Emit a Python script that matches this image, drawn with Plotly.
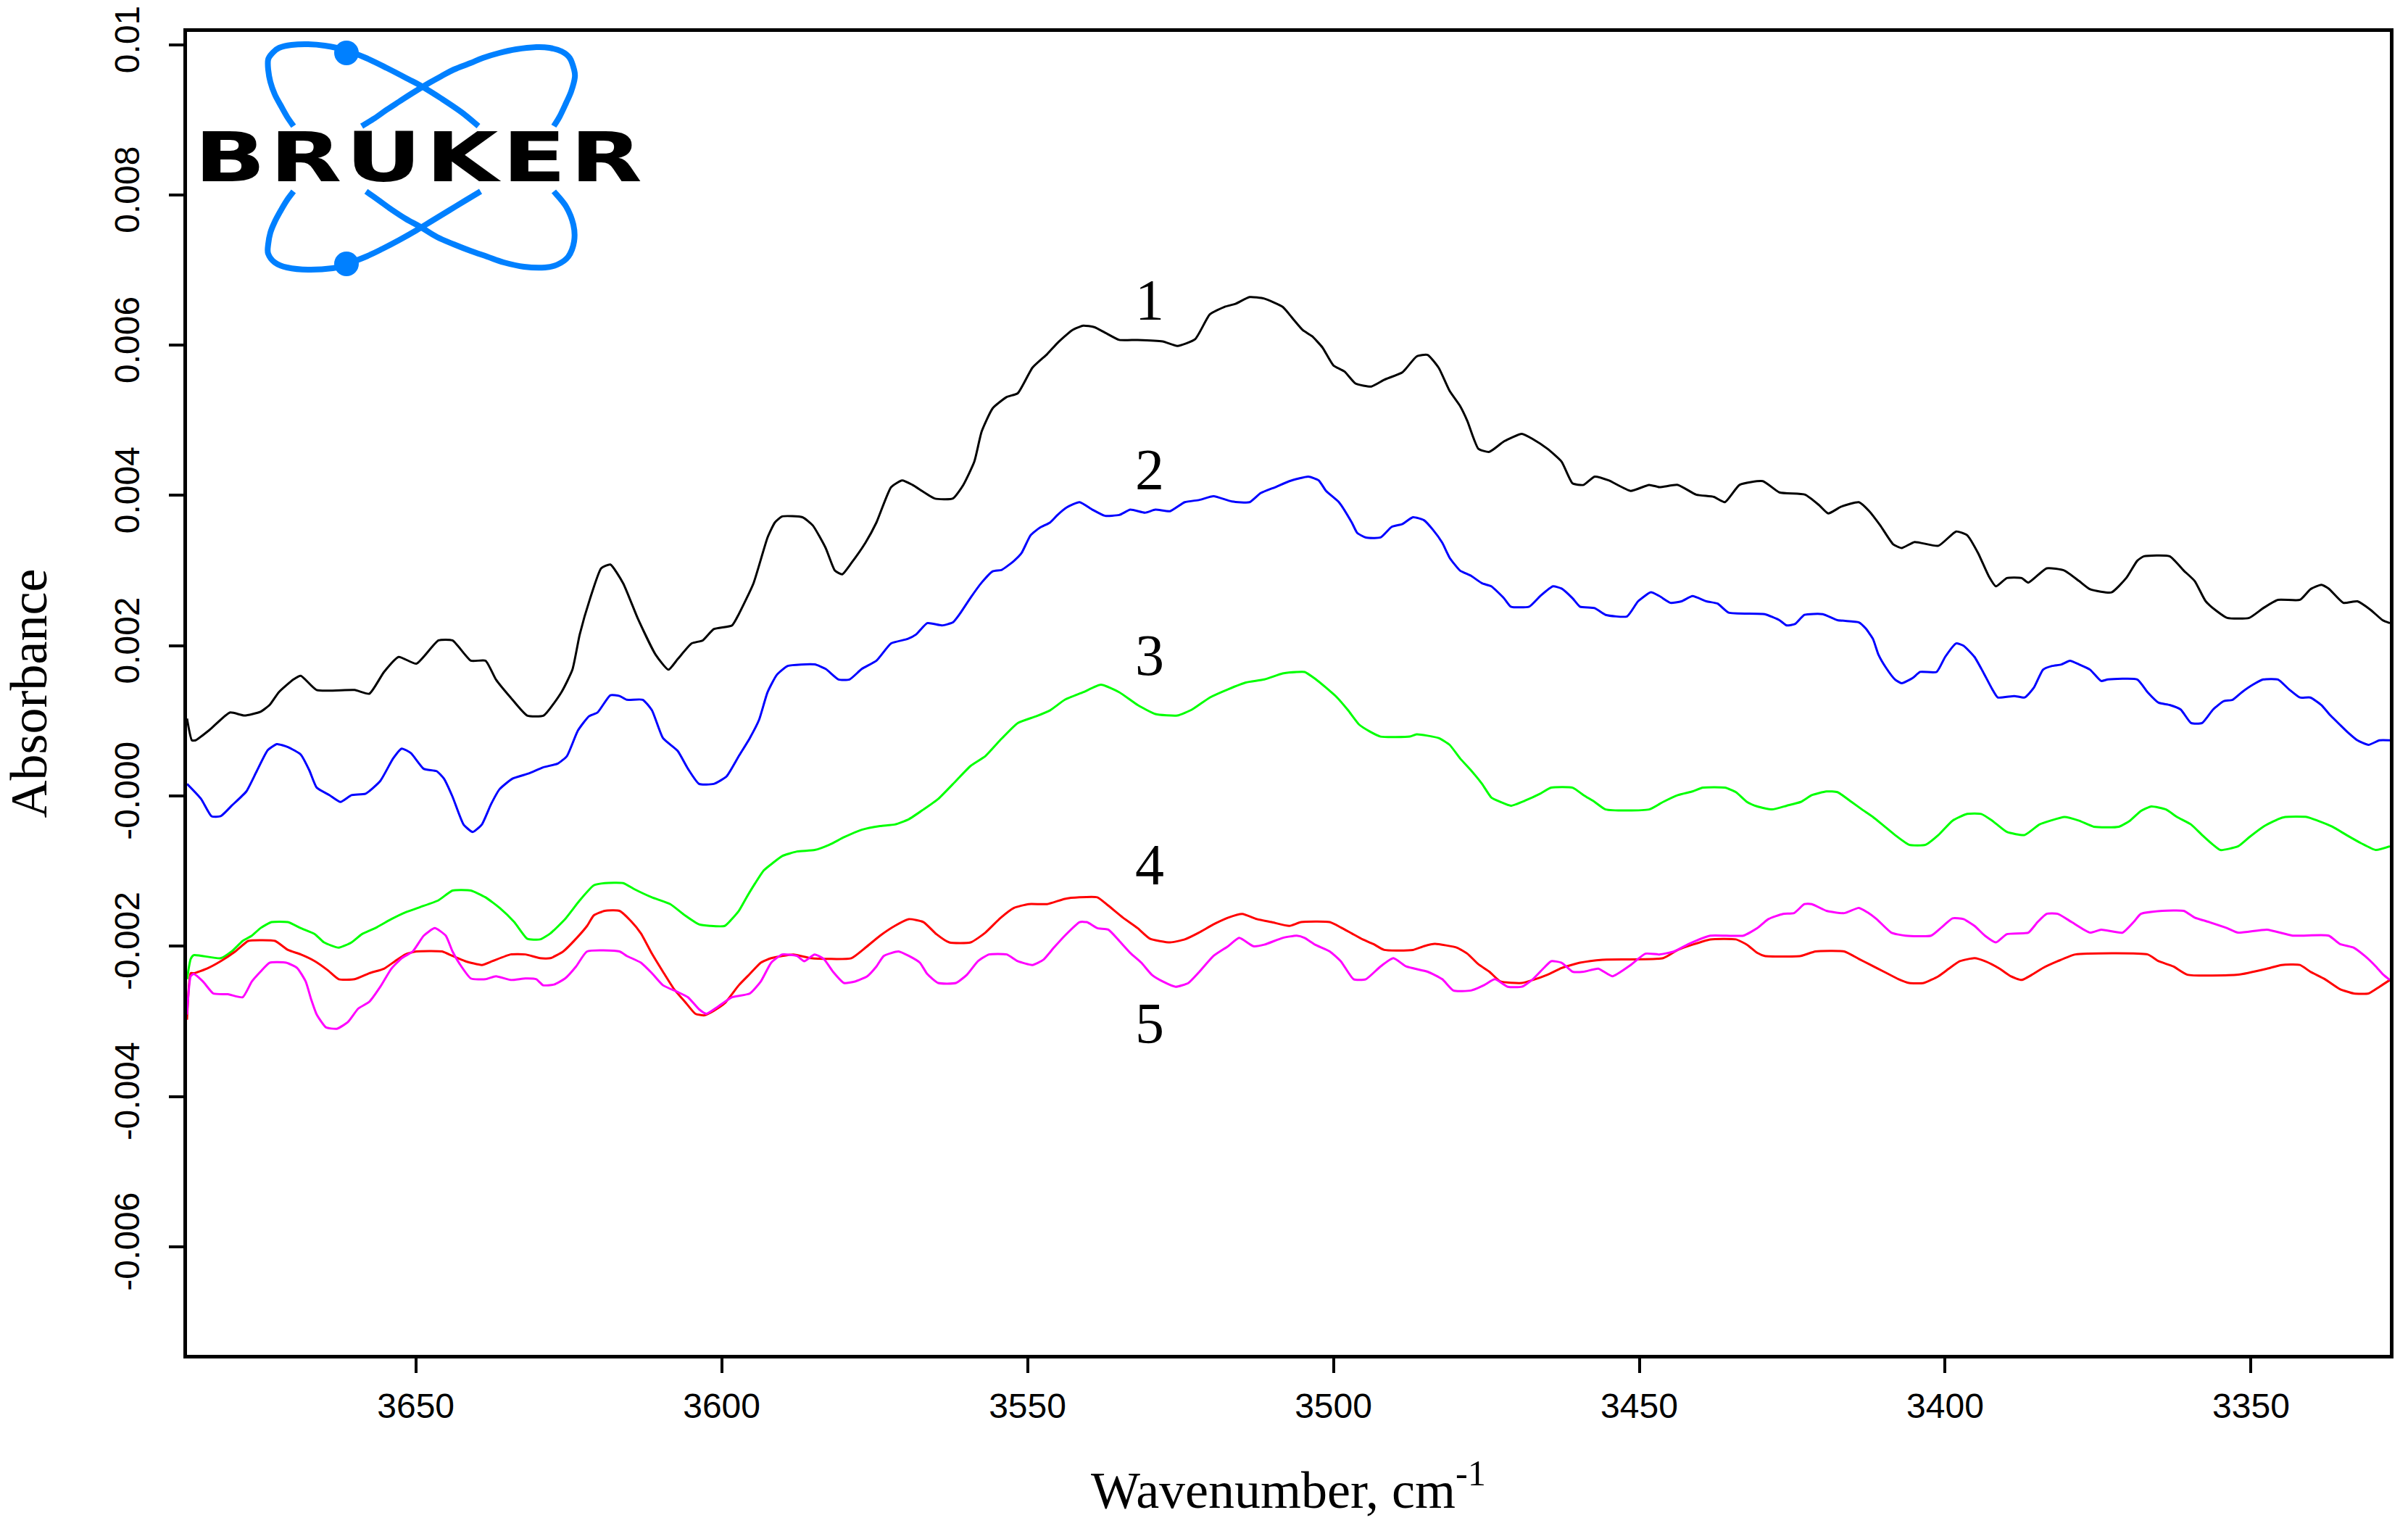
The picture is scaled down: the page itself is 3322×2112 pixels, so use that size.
import plotly.graph_objects as go

# ---------------- data ----------------
WN_1 = [3687.4, 3686.6, 3686.0, 3683.7, 3680.4, 3678.0, 3675.4, 3673.9, 3672.4, 3670.0, 3668.8, 3666.2, 3660.0,
        3657.6, 3655.2, 3652.8, 3649.9, 3646.3, 3644.0, 3641.0, 3638.6, 3636.9, 3634.5, 3631.8, 3629.1, 3626.2,
        3624.4, 3623.2, 3621.5, 3619.7, 3618.2, 3616.1, 3613.7, 3610.8, 3608.7, 3607.2, 3604.9, 3603.1, 3601.3,
        3598.3, 3597.2, 3594.8, 3592.5, 3591.3, 3590.1, 3586.8, 3585.1, 3583.0, 3581.5, 3580.3, 3578.8, 3576.5,
        3574.7, 3572.3, 3570.5, 3568.8, 3565.2, 3562.2, 3560.5, 3558.7, 3557.5, 3555.7, 3553.4, 3551.6, 3549.2,
        3546.8, 3545.1, 3542.7, 3540.9, 3539.1, 3537.4, 3535.0, 3532.0, 3527.9, 3525.5, 3522.6, 3520.2, 3517.8,
        3516.0, 3513.7, 3511.3, 3508.3, 3506.5, 3505.0, 3503.5, 3501.8, 3500.0, 3498.2, 3496.4, 3493.8, 3491.7,
        3488.7, 3486.4, 3484.6, 3482.8, 3481.0, 3479.3, 3478.1, 3476.3, 3474.5, 3472.1, 3469.2, 3467.4, 3465.0,
        3462.7, 3460.9, 3459.1, 3457.3, 3455.0, 3451.4, 3448.4, 3446.7, 3443.7, 3440.7, 3437.8, 3436.0, 3433.6,
        3429.8, 3427.1, 3422.9, 3420.6, 3419.1, 3417.0, 3414.1, 3412.4, 3410.6, 3408.5, 3407.1, 3405.0, 3401.1,
        3398.2, 3396.4, 3394.6, 3392.9, 3391.7, 3389.9, 3387.5, 3386.4, 3383.4, 3380.5, 3378.1, 3376.3, 3372.8,
        3370.4, 3368.6, 3367.5, 3363.3, 3361.0, 3359.2, 3357.4, 3355.6, 3353.9, 3350.3, 3348.0, 3345.6, 3342.0,
        3340.3, 3338.5, 3337.3, 3334.9, 3332.6, 3330.5, 3328.5, 3327.3]
AB_1 = [0.00103, 0.00074, 0.00074, 0.00088, 0.00111, 0.00107, 0.00112, 0.00121, 0.00138, 0.00155, 0.00160, 0.00141,
        0.00141, 0.00136, 0.00165, 0.00185, 0.00176, 0.00207, 0.00207, 0.00180, 0.00180, 0.00155, 0.00131, 0.00107,
        0.00107, 0.00138, 0.00168, 0.00215, 0.00263, 0.00303, 0.00308, 0.00283, 0.00236, 0.00188, 0.00168, 0.00182,
        0.00203, 0.00207, 0.00222, 0.00227, 0.00242, 0.00283, 0.00344, 0.00364, 0.00372, 0.00371, 0.00360, 0.00330,
        0.00300, 0.00295, 0.00310, 0.00337, 0.00364, 0.00411, 0.00420, 0.00414, 0.00396, 0.00396, 0.00414, 0.00445,
        0.00485, 0.00516, 0.00531, 0.00536, 0.00570, 0.00588, 0.00603, 0.00620, 0.00626, 0.00624, 0.00617, 0.00607,
        0.00607, 0.00605, 0.00599, 0.00608, 0.00641, 0.00651, 0.00655, 0.00664, 0.00662, 0.00651, 0.00634, 0.00620,
        0.00612, 0.00597, 0.00573, 0.00565, 0.00549, 0.00545, 0.00554, 0.00564, 0.00585, 0.00587, 0.00570, 0.00539,
        0.00519, 0.00499, 0.00462, 0.00458, 0.00472, 0.00482, 0.00475, 0.00462, 0.00445, 0.00416, 0.00414, 0.00425,
        0.00420, 0.00406, 0.00414, 0.00411, 0.00414, 0.00401, 0.00398, 0.00391, 0.00414, 0.00419, 0.00404, 0.00401,
        0.00387, 0.00376, 0.00385, 0.00391, 0.00379, 0.00360, 0.00335, 0.00330, 0.00338, 0.00333, 0.00352, 0.00347,
        0.00323, 0.00293, 0.00279, 0.00290, 0.00290, 0.00284, 0.00303, 0.00300, 0.00286, 0.00275, 0.00271, 0.00290,
        0.00313, 0.00319, 0.00319, 0.00300, 0.00286, 0.00259, 0.00246, 0.00237, 0.00237, 0.00250, 0.00261, 0.00261,
        0.00275, 0.00281, 0.00276, 0.00257, 0.00259, 0.00248, 0.00234, 0.00230]

WN_2 = [3687.4, 3685.1, 3683.4, 3681.9, 3680.1, 3677.7, 3676.0, 3674.2, 3672.7, 3670.9, 3668.8, 3667.4, 3666.2,
        3664.1, 3662.3, 3660.5, 3658.2, 3655.8, 3653.7, 3652.3, 3650.8, 3648.7, 3646.6, 3645.4, 3644.0, 3642.2,
        3640.7, 3639.2, 3637.7, 3636.3, 3634.2, 3631.5, 3629.2, 3626.8, 3625.3, 3623.5, 3621.7, 3620.3, 3618.2,
        3616.7, 3615.5, 3612.9, 3611.4, 3609.6, 3607.2, 3605.5, 3603.7, 3601.3, 3599.2, 3597.2, 3595.4, 3593.9,
        3592.5, 3591.0, 3589.2, 3584.8, 3583.0, 3580.9, 3579.1, 3577.1, 3574.7, 3572.3, 3569.6, 3568.2, 3566.4,
        3564.0, 3562.2, 3561.1, 3559.3, 3557.5, 3555.7, 3554.2, 3552.2, 3551.0, 3549.5, 3548.0, 3546.3, 3545.1,
        3543.6, 3541.5, 3539.4, 3537.4, 3535.0, 3533.2, 3530.8, 3529.1, 3526.7, 3524.3, 3521.9, 3519.6, 3516.6,
        3513.7, 3511.9, 3509.5, 3507.2, 3504.1, 3502.4, 3501.2, 3499.1, 3497.0, 3496.1, 3494.7, 3492.3, 3490.5,
        3488.7, 3487.0, 3485.2, 3483.7, 3482.2, 3481.0, 3479.3, 3477.5, 3475.7, 3474.2, 3472.1, 3471.0, 3468.0,
        3466.2, 3464.1, 3462.7, 3460.9, 3459.7, 3457.3, 3455.5, 3452.0, 3450.2, 3448.1, 3446.7, 3444.9, 3443.1,
        3441.3, 3439.0, 3437.2, 3435.4, 3429.5, 3427.1, 3425.9, 3424.5, 3423.0, 3420.0, 3417.6, 3414.1, 3413.0,
        3411.8, 3410.9, 3409.7, 3408.2, 3407.1, 3405.3, 3404.1, 3401.4, 3400.0, 3398.2, 3397.0, 3395.2, 3393.8,
        3392.3, 3391.4, 3388.7, 3387.0, 3385.5, 3384.0, 3382.5, 3381.0, 3379.6, 3378.1, 3376.3, 3374.5, 3373.4,
        3368.6, 3366.9, 3365.1, 3363.3, 3361.5, 3359.8, 3358.0, 3356.2, 3354.5, 3353.0, 3351.5, 3349.7, 3348.0,
        3345.6, 3343.8, 3342.0, 3340.3, 3338.5, 3337.0, 3335.5, 3334.1, 3332.6, 3330.8, 3329.0, 3327.3]
AB_2 = [0.00016, -0.00004, -0.00027, -0.00027, -0.00013, 0.00006, 0.00033, 0.00061, 0.00069, 0.00065, 0.00055,
        0.00034, 0.00011, 0.00001, -0.00008, 0.00001, 0.00003, 0.00020, 0.00050, 0.00063, 0.00057, 0.00036, 0.00033,
        0.00023, -0.00001, -0.00038, -0.00048, -0.00038, -0.00011, 0.00009, 0.00023, 0.00030, 0.00038, 0.00043,
        0.00053, 0.00087, 0.00106, 0.00111, 0.00134, 0.00133, 0.00128, 0.00128, 0.00114, 0.00077, 0.00060, 0.00036,
        0.00016, 0.00016, 0.00026, 0.00053, 0.00077, 0.00101, 0.00138, 0.00161, 0.00173, 0.00175, 0.00169, 0.00155,
        0.00155, 0.00169, 0.00180, 0.00203, 0.00209, 0.00215, 0.00230, 0.00227, 0.00231, 0.00242, 0.00264, 0.00284,
        0.00299, 0.00301, 0.00313, 0.00323, 0.00347, 0.00357, 0.00364, 0.00374, 0.00384, 0.00391, 0.00381, 0.00373,
        0.00374, 0.00381, 0.00377, 0.00381, 0.00379, 0.00391, 0.00394, 0.00399, 0.00392, 0.00391, 0.00403, 0.00411,
        0.00419, 0.00425, 0.00420, 0.00406, 0.00391, 0.00364, 0.00350, 0.00344, 0.00344, 0.00358, 0.00362, 0.00371,
        0.00367, 0.00354, 0.00337, 0.00317, 0.00300, 0.00293, 0.00283, 0.00279, 0.00263, 0.00252, 0.00252, 0.00266,
        0.00279, 0.00276, 0.00263, 0.00252, 0.00250, 0.00241, 0.00239, 0.00259, 0.00271, 0.00266, 0.00257, 0.00259,
        0.00266, 0.00259, 0.00256, 0.00244, 0.00242, 0.00234, 0.00227, 0.00229, 0.00241, 0.00242, 0.00234, 0.00231,
        0.00223, 0.00209, 0.00188, 0.00171, 0.00155, 0.00150, 0.00157, 0.00165, 0.00165, 0.00185, 0.00203, 0.00200,
        0.00185, 0.00165, 0.00142, 0.00131, 0.00133, 0.00131, 0.00144, 0.00168, 0.00173, 0.00175, 0.00180, 0.00175,
        0.00168, 0.00153, 0.00155, 0.00155, 0.00138, 0.00124, 0.00121, 0.00115, 0.00097, 0.00097, 0.00115, 0.00126,
        0.00128, 0.00138, 0.00148, 0.00155, 0.00155, 0.00142, 0.00131, 0.00131, 0.00121, 0.00107, 0.00095, 0.00084,
        0.00074, 0.00068, 0.00074, 0.00074]

WN_3 = [3687.4, 3686.8, 3686.3, 3681.9, 3680.1, 3678.3, 3676.8, 3675.4, 3673.6, 3670.9, 3668.8, 3666.5, 3665.0,
        3662.6, 3660.5, 3658.8, 3656.4, 3654.0, 3651.7, 3649.3, 3646.3, 3644.0, 3641.0, 3638.6, 3636.3, 3633.9,
        3631.8, 3629.7, 3628.0, 3625.6, 3623.2, 3620.9, 3619.1, 3616.1, 3614.3, 3611.4, 3608.4, 3606.0, 3603.7,
        3601.9, 3599.5, 3597.2, 3596.0, 3594.5, 3593.1, 3591.6, 3590.1, 3587.7, 3584.8, 3582.4, 3580.0, 3577.1,
        3574.1, 3571.7, 3569.4, 3567.0, 3564.6, 3561.7, 3559.3, 3556.9, 3554.5, 3551.6, 3548.6, 3546.3, 3543.9,
        3540.9, 3538.0, 3535.0, 3532.0, 3529.1, 3525.5, 3523.1, 3520.2, 3517.2, 3514.3, 3511.3, 3508.3, 3506.0,
        3504.7, 3503.0, 3501.2, 3499.4, 3497.6, 3495.8, 3494.1, 3492.3, 3487.5, 3486.4, 3482.8, 3481.0, 3479.3,
        3477.5, 3475.7, 3474.2, 3472.7, 3471.0, 3468.6, 3466.2, 3464.4, 3460.9, 3459.1, 3457.3, 3455.5, 3448.4,
        3446.1, 3443.7, 3441.3, 3439.6, 3436.0, 3434.2, 3432.4, 3430.7, 3428.3, 3425.9, 3423.6, 3421.8, 3419.4,
        3417.6, 3415.3, 3413.6, 3411.8, 3410.0, 3408.2, 3405.9, 3403.2, 3401.1, 3398.8, 3396.4, 3394.1, 3392.3,
        3389.9, 3387.0, 3384.6, 3382.8, 3380.5, 3378.1, 3375.7, 3371.6, 3369.8, 3368.0, 3366.3, 3363.9, 3362.1,
        3359.8, 3358.0, 3356.2, 3355.0, 3352.1, 3350.3, 3348.0, 3345.6, 3344.4, 3340.9, 3339.1, 3336.7, 3334.4,
        3332.0, 3329.6, 3327.3]
AB_3 = [-0.00244, -0.00217, -0.00212, -0.00216, -0.00207, -0.00193, -0.00186, -0.00176, -0.00168, -0.00168,
        -0.00176, -0.00184, -0.00195, -0.00202, -0.00195, -0.00184, -0.00175, -0.00164, -0.00155, -0.00148,
        -0.00139, -0.00126, -0.00126, -0.00135, -0.00149, -0.00168, -0.00190, -0.00191, -0.00183, -0.00164,
        -0.00139, -0.00119, -0.00116, -0.00116, -0.00124, -0.00135, -0.00144, -0.00159, -0.00171, -0.00173,
        -0.00173, -0.00153, -0.00136, -0.00116, -0.00099, -0.00089, -0.00080, -0.00074, -0.00072, -0.00065,
        -0.00055, -0.00045, -0.00040, -0.00038, -0.00031, -0.00018, -0.00004, 0.00020, 0.00040, 0.00053, 0.00074,
        0.00097, 0.00106, 0.00114, 0.00128, 0.00138, 0.00148, 0.00138, 0.00121, 0.00109, 0.00107, 0.00115, 0.00131,
        0.00142, 0.00151, 0.00155, 0.00163, 0.00165, 0.00165, 0.00156, 0.00144, 0.00131, 0.00114, 0.00095, 0.00086,
        0.00079, 0.00079, 0.00082, 0.00077, 0.00068, 0.00050, 0.00034, 0.00016, -0.00002, -0.00008, -0.00013,
        -0.00006, 0.00003, 0.00011, 0.00011, 0.00001, -0.00008, -0.00018, -0.00018, -0.00008, 0.00001, 0.00006,
        0.00011, 0.00011, 0.00005, -0.00008, -0.00014, -0.00018, -0.00013, -0.00008, 0.00001, 0.00006, 0.00005,
        -0.00008, -0.00018, -0.00028, -0.00040, -0.00052, -0.00065, -0.00065, -0.00052, -0.00033, -0.00024,
        -0.00024, -0.00033, -0.00048, -0.00052, -0.00038, -0.00033, -0.00028, -0.00033, -0.00041, -0.00041,
        -0.00033, -0.00020, -0.00014, -0.00018, -0.00028, -0.00038, -0.00052, -0.00065, -0.00072, -0.00067,
        -0.00055, -0.00041, -0.00031, -0.00028, -0.00028, -0.00033, -0.00041, -0.00052, -0.00063, -0.00072,
        -0.00067]

WN_4 = [3687.4, 3686.8, 3686.3, 3684.2, 3681.9, 3679.5, 3677.4, 3675.4, 3673.0, 3670.9, 3668.8, 3666.5, 3664.4,
        3662.6, 3660.0, 3657.6, 3655.2, 3653.4, 3651.7, 3649.9, 3645.7, 3644.0, 3641.9, 3639.2, 3637.5, 3634.5,
        3632.1, 3629.7, 3628.0, 3625.9, 3623.8, 3622.0, 3620.9, 3619.1, 3616.7, 3614.9, 3613.2, 3611.4, 3609.6,
        3607.8, 3606.0, 3604.3, 3602.8, 3601.3, 3599.5, 3597.2, 3595.4, 3593.6, 3591.9, 3588.3, 3585.4, 3582.4,
        3578.8, 3576.5, 3574.1, 3571.7, 3569.4, 3567.0, 3564.9, 3562.8, 3559.3, 3556.9, 3554.5, 3552.2, 3549.8,
        3546.8, 3543.9, 3541.5, 3538.6, 3536.8, 3534.4, 3532.0, 3530.0, 3526.7, 3524.3, 3522.0, 3519.6, 3517.2,
        3514.9, 3512.5, 3510.1, 3507.2, 3505.3, 3500.6, 3498.8, 3497.0, 3495.2, 3493.5, 3491.7, 3487.0, 3485.2,
        3483.4, 3479.8, 3478.1, 3476.3, 3474.5, 3472.7, 3469.2, 3467.4, 3465.0, 3462.7, 3459.7, 3456.0, 3446.1,
        3443.7, 3441.3, 3438.4, 3434.2, 3432.4, 3430.7, 3429.5, 3423.6, 3421.2, 3416.5, 3414.1, 3412.4, 3410.0,
        3407.6, 3405.9, 3403.5, 3401.1, 3399.4, 3397.6, 3395.2, 3393.5, 3391.1, 3389.3, 3387.5, 3385.8, 3384.0,
        3381.6, 3378.7, 3366.9, 3365.1, 3362.7, 3360.4, 3352.1, 3347.4, 3345.0, 3342.0, 3340.3, 3337.9, 3335.5,
        3333.2, 3330.8, 3329.0, 3327.3]
AB_4 = [-0.00298, -0.00236, -0.00236, -0.00230, -0.00220, -0.00207, -0.00193, -0.00192, -0.00193, -0.00205,
        -0.00211, -0.00220, -0.00232, -0.00244, -0.00244, -0.00236, -0.00230, -0.00220, -0.00211, -0.00207,
        -0.00207, -0.00213, -0.00220, -0.00225, -0.00220, -0.00211, -0.00211, -0.00216, -0.00216, -0.00207,
        -0.00190, -0.00173, -0.00159, -0.00153, -0.00153, -0.00166, -0.00183, -0.00210, -0.00234, -0.00257,
        -0.00274, -0.00290, -0.00292, -0.00286, -0.00276, -0.00252, -0.00237, -0.00222, -0.00216, -0.00211,
        -0.00216, -0.00217, -0.00216, -0.00202, -0.00186, -0.00173, -0.00164, -0.00168, -0.00184, -0.00195,
        -0.00195, -0.00182, -0.00163, -0.00149, -0.00144, -0.00144, -0.00137, -0.00135, -0.00135, -0.00146,
        -0.00162, -0.00176, -0.00190, -0.00195, -0.00191, -0.00182, -0.00171, -0.00162, -0.00157, -0.00164,
        -0.00168, -0.00173, -0.00168, -0.00168, -0.00175, -0.00183, -0.00191, -0.00197, -0.00205, -0.00205,
        -0.00200, -0.00197, -0.00202, -0.00210, -0.00224, -0.00234, -0.00247, -0.00249, -0.00245, -0.00238,
        -0.00229, -0.00222, -0.00218, -0.00216, -0.00205, -0.00198, -0.00191, -0.00191, -0.00198, -0.00209,
        -0.00213, -0.00213, -0.00207, -0.00207, -0.00217, -0.00224, -0.00234, -0.00244, -0.00249, -0.00249,
        -0.00240, -0.00230, -0.00220, -0.00216, -0.00220, -0.00230, -0.00240, -0.00245, -0.00238, -0.00229,
        -0.00220, -0.00211, -0.00211, -0.00220, -0.00227, -0.00238, -0.00238, -0.00230, -0.00225, -0.00225,
        -0.00234, -0.00244, -0.00257, -0.00263, -0.00263, -0.00254, -0.00245]

WN_5 = [3687.4, 3686.8, 3686.3, 3684.8, 3683.1, 3680.7, 3678.3, 3676.8, 3675.4, 3673.9, 3671.2, 3669.4, 3668.0,
        3667.1, 3666.2, 3664.7, 3662.9, 3661.1, 3659.4, 3657.6, 3655.8, 3654.0, 3652.3, 3650.5, 3648.7, 3646.9,
        3645.1, 3644.0, 3642.8, 3641.0, 3638.6, 3636.9, 3634.5, 3632.1, 3630.3, 3629.2, 3627.4, 3625.6, 3623.8,
        3622.0, 3616.7, 3615.5, 3613.2, 3611.4, 3609.6, 3607.2, 3605.5, 3603.7, 3602.5, 3600.7, 3598.3, 3595.4,
        3593.6, 3591.9, 3590.1, 3587.7, 3586.5, 3584.8, 3583.3, 3581.8, 3580.0, 3578.2, 3576.2, 3574.7, 3573.5,
        3571.1, 3569.4, 3567.6, 3566.4, 3564.6, 3561.7, 3559.9, 3558.1, 3556.3, 3553.4, 3551.6, 3549.2, 3547.4,
        3545.7, 3543.9, 3541.5, 3540.3, 3538.6, 3536.8, 3535.0, 3533.2, 3531.4, 3529.7, 3527.9, 3525.8, 3523.7,
        3521.9, 3519.6, 3517.2, 3515.4, 3513.1, 3511.3, 3508.3, 3506.0, 3504.7, 3503.0, 3500.6, 3498.8, 3496.7,
        3494.7, 3492.3, 3490.2, 3488.1, 3484.6, 3482.2, 3480.4, 3477.5, 3475.4, 3473.6, 3471.5, 3469.2, 3467.4,
        3465.6, 3464.4, 3462.7, 3460.9, 3459.1, 3456.7, 3454.4, 3451.4, 3449.0, 3446.7, 3444.3, 3441.9, 3438.4,
        3433.0, 3430.7, 3428.9, 3426.5, 3424.7, 3423.0, 3421.8, 3419.4, 3416.5, 3414.1, 3412.7, 3411.2, 3408.8,
        3406.5, 3402.3, 3400.6, 3398.8, 3397.0, 3395.2, 3393.5, 3391.7, 3389.9, 3386.4, 3384.9, 3383.4, 3381.6,
        3379.3, 3376.3, 3374.5, 3371.0, 3369.2, 3368.0, 3364.5, 3361.0, 3359.2, 3356.8, 3353.9, 3352.1, 3347.4,
        3343.2, 3337.3, 3335.5, 3333.2, 3331.4, 3329.6, 3328.5, 3327.3]
AB_5 = [-0.00291, -0.00240, -0.00237, -0.00247, -0.00263, -0.00264, -0.00268, -0.00247, -0.00234, -0.00222,
        -0.00222, -0.00229, -0.00247, -0.00271, -0.00291, -0.00308, -0.00310, -0.00301, -0.00283, -0.00274,
        -0.00254, -0.00230, -0.00216, -0.00207, -0.00186, -0.00176, -0.00186, -0.00207, -0.00224, -0.00243,
        -0.00244, -0.00240, -0.00245, -0.00243, -0.00244, -0.00252, -0.00251, -0.00243, -0.00227, -0.00207,
        -0.00207, -0.00213, -0.00222, -0.00236, -0.00252, -0.00261, -0.00268, -0.00284, -0.00290, -0.00281,
        -0.00268, -0.00263, -0.00247, -0.00222, -0.00211, -0.00213, -0.00220, -0.00211, -0.00217, -0.00234,
        -0.00249, -0.00247, -0.00240, -0.00227, -0.00213, -0.00207, -0.00213, -0.00222, -0.00237, -0.00249,
        -0.00249, -0.00238, -0.00220, -0.00211, -0.00211, -0.00220, -0.00225, -0.00218, -0.00202, -0.00186,
        -0.00168, -0.00168, -0.00176, -0.00178, -0.00193, -0.00209, -0.00222, -0.00238, -0.00247, -0.00254,
        -0.00249, -0.00234, -0.00213, -0.00200, -0.00189, -0.00200, -0.00198, -0.00189, -0.00186, -0.00189,
        -0.00198, -0.00207, -0.00220, -0.00244, -0.00244, -0.00227, -0.00216, -0.00227, -0.00234, -0.00244,
        -0.00259, -0.00259, -0.00252, -0.00244, -0.00254, -0.00254, -0.00244, -0.00229, -0.00220, -0.00222,
        -0.00234, -0.00234, -0.00230, -0.00240, -0.00225, -0.00210, -0.00211, -0.00207, -0.00197, -0.00186,
        -0.00186, -0.00176, -0.00164, -0.00157, -0.00156, -0.00144, -0.00144, -0.00153, -0.00156, -0.00149,
        -0.00155, -0.00164, -0.00182, -0.00186, -0.00186, -0.00175, -0.00163, -0.00164, -0.00173, -0.00186,
        -0.00195, -0.00184, -0.00182, -0.00168, -0.00157, -0.00157, -0.00168, -0.00182, -0.00178, -0.00182,
        -0.00168, -0.00157, -0.00153, -0.00153, -0.00162, -0.00168, -0.00176, -0.00182, -0.00178, -0.00186,
        -0.00186, -0.00197, -0.00202, -0.00213, -0.00227, -0.00237, -0.00245]

SERIES_NAMES = ["1", "2", "3", "4", "5"]
SERIES_COLORS = ["#000000", "#0000FF", "#00FF00", "#FF0000", "#FF00FF"]

X_TICKS = [3650, 3600, 3550, 3500, 3450, 3400, 3350]
X_TICKTEXT = ["3650", "3600", "3550", "3500", "3450", "3400", "3350"]
Y_TICKS = [-0.006, -0.004, -0.002, 0.0, 0.002, 0.004, 0.006, 0.008, 0.01]
Y_TICKTEXT = ["-0.006", "-0.004", "-0.002", "-0.000", "0.002", "0.004", "0.006", "0.008", "0.01"]
X_RANGE = [3687.4, 3327.3]
Y_RANGE = [-0.00744, 0.01017]

# ---------------- figure ----------------
W, H = 3322, 2112
ML, MR, MT, MB = 258, 25, 44, 243
PW, PH = W - ML - MR, H - MT - MB

fig = go.Figure()
series = [(WN_1, AB_1), (WN_2, AB_2), (WN_3, AB_3), (WN_4, AB_4), (WN_5, AB_5)]
for (wn, ab), name, col in zip(series, SERIES_NAMES, SERIES_COLORS):
    fig.add_trace(go.Scatter(x=wn, y=ab, mode="lines", name=name,
                             line=dict(color=col, width=3, shape="spline", smoothing=0.5),
                             showlegend=False, hoverinfo="skip"))

# curve labels
LABEL_POS = [(3530.1, 0.00660), (3530.1, 0.00434), (3530.1, 0.00187), (3530.1, -0.00092), (3530.1, -0.00303)]
annotations = []
for name, (lx, ly) in zip(SERIES_NAMES, LABEL_POS):
    annotations.append(dict(x=lx, y=ly, xref="x", yref="y", text=name, showarrow=False,
                            xanchor="center", yanchor="middle",
                            font=dict(family="Liberation Serif, Times New Roman, serif", size=80, color="#000000")))

# ---------------- Bruker logo (decoration) ----------------
def px2paper(pts):
    return [((x - ML) / PW, (H - MB - y) / PH) for x, y in pts]

def smooth_path(pts):
    p = px2paper(pts)
    d = "M %.5f,%.5f" % p[0]
    n = len(p)
    for i in range(n - 1):
        p0 = p[i - 1] if i > 0 else p[i]
        p1, p2 = p[i], p[i + 1]
        p3 = p[i + 2] if i + 2 < n else p[i + 1]
        c1 = (p1[0] + (p2[0] - p0[0]) / 6, p1[1] + (p2[1] - p0[1]) / 6)
        c2 = (p2[0] - (p3[0] - p1[0]) / 6, p2[1] - (p3[1] - p1[1]) / 6)
        d += " C %.5f,%.5f %.5f,%.5f %.5f,%.5f" % (c1[0], c1[1], c2[0], c2[1], p2[0], p2[1])
    return d

LOGO_BLUE = "#0080FF"
orbit_upper_left = [(405, 174), (396, 161), (387, 145), (379, 130), (373, 113), (370, 96), (370, 82), (376, 73),
                    (385, 66), (402, 62), (425, 61), (448, 63), (476, 69), (505, 80), (534, 94), (563, 109),
                    (580, 118), (609, 136), (637, 155), (660, 174)]
orbit_upper_right = [(499, 174), (517, 163), (534, 151), (551, 140), (568, 129), (591, 115), (609, 105), (626, 96),
                     (649, 87), (666, 80), (689, 73), (712, 68), (740, 65), (758, 66), (775, 71), (786, 80),
                     (792, 96), (793, 107), (788, 126), (781, 142), (772, 161), (764, 174)]
orbit_lower_left = [(405, 264), (396, 276), (387, 291), (379, 306), (373, 321), (370, 337), (370, 350), (379, 362),
                    (396, 369), (425, 372), (459, 370), (476, 365), (505, 354), (528, 343), (551, 331), (574, 318),
                    (597, 304), (620, 290), (643, 276), (663, 264)]
orbit_lower_right = [(505, 264), (522, 276), (540, 289), (560, 302), (580, 313), (603, 327), (626, 337), (649, 346),
                     (672, 354), (695, 362), (723, 368), (752, 369), (769, 365), (784, 354), (792, 333), (791, 310),
                     (781, 285), (764, 264)]
shapes = []
for orb in (orbit_upper_left, orbit_upper_right, orbit_lower_left, orbit_lower_right):
    shapes.append(dict(type="path", xref="paper", yref="paper", path=smooth_path(orb),
                       line=dict(color=LOGO_BLUE, width=8), layer="above"))
for cx, cy in [(478, 73), (478, 364)]:
    r = 17
    (x0, y1), (x1, y0) = px2paper([(cx - r, cy - r), (cx + r, cy + r)])
    shapes.append(dict(type="circle", xref="paper", yref="paper", x0=x0, x1=x1, y0=y0, y1=y1,
                       fillcolor=LOGO_BLUE, line=dict(color=LOGO_BLUE, width=0), layer="above"))

bx, by = px2paper([(266, 217)])[0]
annotations.append(dict(x=bx, y=by, xref="paper", yref="paper", xanchor="left", yanchor="middle",
                        showarrow=False,
                        text='<span style="letter-spacing:4px">BRUKER</span>',
                        font=dict(family="DejaVu Sans, Verdana, sans-serif", size=95, color="#000000",
                                  weight="bold")))

TICKFONT = dict(family="Liberation Sans Narrow, Arial Narrow, Liberation Sans, Arial, sans-serif",
                size=48, color="#000000")
TITLEFONT = dict(family="Liberation Serif, Times New Roman, serif", size=72, color="#000000")

fig.update_layout(
    width=W, height=H,
    margin=dict(l=ML, r=MR, t=MT, b=MB, pad=0, autoexpand=False),
    paper_bgcolor="white", plot_bgcolor="white",
    showlegend=False,
    annotations=annotations,
    shapes=shapes,
    xaxis=dict(range=X_RANGE, tickmode="array", tickvals=X_TICKS, ticktext=X_TICKTEXT,
               ticks="outside", ticklen=20, tickwidth=4, tickcolor="#000000",
               showline=True, linewidth=5, linecolor="#000000", mirror=True, automargin=False,
               showgrid=False, zeroline=False, tickfont=TICKFONT, ticklabelstandoff=4,
               title=dict(text="Wavenumber, cm<sup>-1</sup>", font=TITLEFONT, standoff=66)),
    yaxis=dict(range=Y_RANGE, tickmode="array", tickvals=Y_TICKS, ticktext=Y_TICKTEXT,
               tickangle=-90,
               ticks="outside", ticklen=20, tickwidth=4, tickcolor="#000000",
               showline=True, linewidth=5, linecolor="#000000", mirror=True, automargin=False,
               showgrid=False, zeroline=False, tickfont=TICKFONT, ticklabelstandoff=22,
               title=dict(text="Absorbance", font=TITLEFONT, standoff=86)),
)

# Remove the browser's default page margin so the figure sits at the window origin,
# and stretch the logo lettering horizontally (the Bruker wordmark is an extended face).
POST = """
document.documentElement.style.margin = '0';
document.body.style.margin = '0';
document.body.style.overflow = 'hidden';
var gd = document.getElementById('{plot_id}');
function stretchLogo(){
  gd.querySelectorAll('text.annotation-text').forEach(function(t){
    if (t.textContent === 'BRUKER') {
      t.style.transformBox = 'fill-box';
      t.style.transformOrigin = '0% 50%';
      t.style.transform = 'scaleX(1.36)';
    }
  });
}
stretchLogo();
if (gd.on) { gd.on('plotly_afterplot', stretchLogo); }
"""

fig.write_html("out.html", post_script=POST, config={"displayModeBar": False})
